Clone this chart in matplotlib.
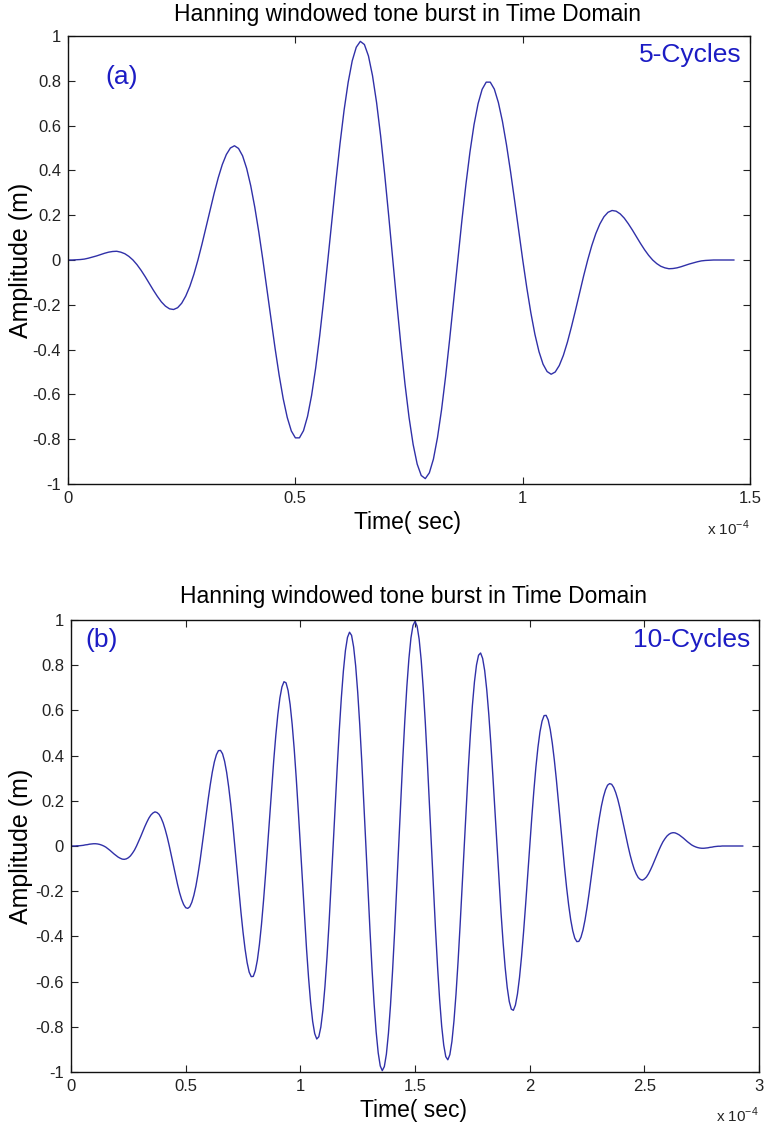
import numpy as np
import matplotlib
matplotlib.use("Agg")
import matplotlib.pyplot as plt

plt.rcParams['font.family'] = ['Liberation Sans', 'DejaVu Sans']

# --- values (amplitude in m), time axis in units of 1e-4 s ---
dt_a = 0.00893   # sample spacing of trace (a)
dt_b = 0.00893   # sample spacing of trace (b)

amp_a = [
    0.000, 0.000, 0.001, 0.002, 0.004, 0.008, 0.013, 0.018, 0.024, 0.030, 0.035, 0.038, 0.039, 0.035, 0.028, 0.016,
    0.000, -0.021, -0.046, -0.074, -0.104, -0.134, -0.162, -0.187, -0.206, -0.218, -0.221, -0.213, -0.193, -0.161, -0.118, -0.064,
    0.000, 0.071, 0.147, 0.224, 0.298, 0.367, 0.426, 0.471, 0.500, 0.510, 0.498, 0.465, 0.409, 0.332, 0.236, 0.124,
    0.000, -0.131, -0.265, -0.394, -0.514, -0.619, -0.703, -0.763, -0.794, -0.794, -0.762, -0.698, -0.604, -0.482, -0.337, -0.174,
    0.000, 0.179, 0.354, 0.520, 0.669, 0.793, 0.889, 0.950, 0.976, 0.962, 0.911, 0.823, 0.703, 0.554, 0.382, 0.195,
    0.000, -0.195, -0.382, -0.554, -0.703, -0.823, -0.911, -0.962, -0.976, -0.950, -0.889, -0.793, -0.669, -0.520, -0.354, -0.179,
    0.000, 0.174, 0.337, 0.482, 0.604, 0.698, 0.762, 0.794, 0.794, 0.763, 0.703, 0.619, 0.514, 0.394, 0.265, 0.131,
    0.000, -0.124, -0.236, -0.332, -0.409, -0.465, -0.498, -0.510, -0.500, -0.471, -0.426, -0.367, -0.298, -0.224, -0.147, -0.071,
    0.000, 0.064, 0.118, 0.161, 0.193, 0.213, 0.221, 0.218, 0.206, 0.187, 0.162, 0.134, 0.104, 0.074, 0.046, 0.021,
    0.000, -0.016, -0.028, -0.035, -0.039, -0.038, -0.035, -0.030, -0.024, -0.018, -0.013, -0.008, -0.004, -0.002, -0.001, 0.000,
    0.000, 0.000, 0.000, 0.000, 0.000,
]

amp_b = [
    0.000, 0.000, 0.000, 0.001, 0.001, 0.002, 0.003, 0.005, 0.006, 0.008, 0.009, 0.010, 0.010, 0.009, 0.007, 0.004,
    0.000, -0.005, -0.012, -0.019, -0.027, -0.035, -0.042, -0.049, -0.054, -0.058, -0.059, -0.057, -0.052, -0.044, -0.032, -0.018,
    0.000, 0.020, 0.041, 0.063, 0.085, 0.105, 0.123, 0.137, 0.146, 0.151, 0.148, 0.140, 0.124, 0.102, 0.073, 0.039,
    0.000, -0.042, -0.085, -0.128, -0.169, -0.206, -0.236, -0.259, -0.273, -0.276, -0.269, -0.249, -0.218, -0.177, -0.125, -0.066,
    0.000, 0.069, 0.139, 0.208, 0.271, 0.327, 0.372, 0.404, 0.422, 0.423, 0.408, 0.375, 0.326, 0.261, 0.184, 0.096,
    0.000, -0.099, -0.199, -0.294, -0.381, -0.456, -0.516, -0.558, -0.578, -0.577, -0.552, -0.505, -0.436, -0.348, -0.243, -0.126,
    0.000, 0.129, 0.258, 0.379, 0.489, 0.582, 0.655, 0.704, 0.727, 0.722, 0.688, 0.626, 0.538, 0.428, 0.298, 0.153,
    0.000, -0.156, -0.310, -0.454, -0.583, -0.692, -0.776, -0.830, -0.854, -0.844, -0.801, -0.726, -0.622, -0.492, -0.342, -0.175,
    0.000, 0.178, 0.350, 0.512, 0.655, 0.774, 0.865, 0.923, 0.946, 0.932, 0.881, 0.797, 0.680, 0.536, 0.371, 0.190,
    0.000, -0.191, -0.375, -0.547, -0.697, -0.822, -0.915, -0.973, -0.994, -0.976, -0.921, -0.829, -0.706, -0.555, -0.383, -0.195,
    0.000, 0.195, 0.383, 0.555, 0.706, 0.829, 0.921, 0.976, 0.994, 0.973, 0.915, 0.822, 0.697, 0.547, 0.375, 0.191,
    0.000, -0.190, -0.371, -0.536, -0.680, -0.797, -0.881, -0.932, -0.946, -0.923, -0.865, -0.774, -0.655, -0.512, -0.350, -0.178,
    0.000, 0.175, 0.342, 0.492, 0.622, 0.726, 0.801, 0.844, 0.854, 0.830, 0.776, 0.692, 0.583, 0.454, 0.310, 0.156,
    0.000, -0.153, -0.298, -0.428, -0.538, -0.626, -0.688, -0.722, -0.727, -0.704, -0.655, -0.582, -0.489, -0.379, -0.258, -0.129,
    0.000, 0.126, 0.243, 0.348, 0.436, 0.505, 0.552, 0.577, 0.578, 0.558, 0.516, 0.456, 0.381, 0.294, 0.199, 0.099,
    0.000, -0.096, -0.184, -0.261, -0.326, -0.375, -0.408, -0.423, -0.422, -0.404, -0.372, -0.327, -0.271, -0.208, -0.139, -0.069,
    0.000, 0.066, 0.125, 0.177, 0.218, 0.249, 0.269, 0.276, 0.273, 0.259, 0.236, 0.206, 0.169, 0.128, 0.085, 0.042,
    0.000, -0.039, -0.073, -0.102, -0.124, -0.140, -0.148, -0.151, -0.146, -0.137, -0.123, -0.105, -0.085, -0.063, -0.041, -0.020,
    0.000, 0.018, 0.032, 0.044, 0.052, 0.057, 0.059, 0.058, 0.054, 0.049, 0.042, 0.035, 0.027, 0.019, 0.012, 0.005,
    0.000, -0.004, -0.007, -0.009, -0.010, -0.010, -0.009, -0.008, -0.006, -0.005, -0.003, -0.002, -0.001, -0.001, 0.000, 0.000,
    0.000, 0.000, 0.000, 0.000, 0.000, 0.000, 0.000, 0.000, 0.000,
]

xticks_a = [0, 0.5, 1, 1.5]
xticks_b = [0, 0.5, 1, 1.5, 2, 2.5, 3]
yticks = [-1, -0.8, -0.6, -0.4, -0.2, 0, 0.2, 0.4, 0.6, 0.8, 1]

title = "Hanning windowed tone burst in Time Domain"
line_col = "#3030a8"
txt_col = "#1c1cc4"

W, H = 769, 1129
fig = plt.figure(figsize=(W / 100, H / 100), dpi=100)


def px(x0, y0, x1, y1):
    # pixel box -> figure fraction rect
    return [x0 / W, 1 - y1 / H, (x1 - x0) / W, (y1 - y0) / H]


def panel(box, t, y, xticks, xmax, tag, tag_xy, cyc, cyc_xy):
    ax = fig.add_axes(px(*box))
    ax.plot(t, y, color=line_col, lw=1.0)
    ax.set_xlim(0, xmax)
    ax.set_ylim(-1, 1)
    ax.set_xticks(xticks)
    ax.set_xticklabels(["%g" % v for v in xticks])
    ax.set_yticks(yticks)
    ax.set_yticklabels(["%g" % v for v in yticks])
    ax.tick_params(direction="in", top=True, right=True, length=5, width=0.8,
                   labelsize=12, colors="#222222", pad=5)
    for s in ax.spines.values():
        s.set_linewidth(1.0)
        s.set_color("#111111")
    ax.text(tag_xy[0], tag_xy[1], tag, color=txt_col, fontsize=19,
            ha="center", va="center")
    ax.text(cyc_xy[0], cyc_xy[1], cyc, color=txt_col, fontsize=19,
            ha="right", va="center")
    return ax


t_a = np.arange(len(amp_a)) * dt_a
t_b = np.arange(len(amp_b)) * dt_b

panel((68, 36, 750, 484), t_a, amp_a, xticks_a, 1.5,
      "(a)", (0.119, 0.817), "5-Cycles", (1.482, 0.915))
panel((71, 620, 759, 1072), t_b, amp_b, xticks_b, 3,
      "(b)", (0.135, 0.91), "10-Cycles", (2.961, 0.91))

# titles, axis labels, exponent notes
fig.text(407 / W, 1 - 15 / H, title, fontsize=16.5, ha="center", va="center")
fig.text(413 / W, 1 - 597 / H, title, fontsize=16.5, ha="center", va="center")
fig.text(408 / W, 1 - 522 / H, "Time( sec)", fontsize=16.5, ha="center", va="center")
fig.text(413 / W, 1 - 1110 / H, "Time( sec)", fontsize=16.5, ha="center", va="center")
fig.text(21 / W, 1 - 260 / H, "Amplitude (m)", fontsize=18, rotation=90,
         ha="center", va="center")
fig.text(21 / W, 1 - 846 / H, "Amplitude (m)", fontsize=18, rotation=90,
         ha="center", va="center")
fig.text(750 / W, 1 - 528 / H, r"x 10$^{\mathregular{-4}}$", fontsize=11,
         ha="right", va="center", color="#222222")
fig.text(759 / W, 1 - 1115 / H, r"x 10$^{\mathregular{-4}}$", fontsize=11,
         ha="right", va="center", color="#222222")

fig.savefig("out.png", dpi=100)
